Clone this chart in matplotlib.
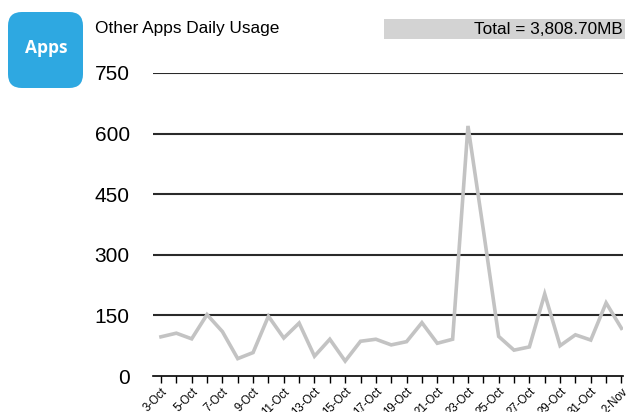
import matplotlib
matplotlib.use("Agg")
import matplotlib.pyplot as plt
from matplotlib.patches import FancyBboxPatch, Rectangle

dates = ["3-Oct", "4-Oct", "5-Oct", "6-Oct", "7-Oct", "8-Oct", "9-Oct", "10-Oct",
         "11-Oct", "12-Oct", "13-Oct", "14-Oct", "15-Oct", "16-Oct", "17-Oct", "18-Oct",
         "19-Oct", "20-Oct", "21-Oct", "22-Oct", "23-Oct", "24-Oct", "25-Oct", "26-Oct",
         "27-Oct", "28-Oct", "29-Oct", "30-Oct", "31-Oct", "1-Nov", "2-Nov"]
usage = [97, 106, 92, 152, 110, 43, 58, 148, 94, 131, 49, 91, 37, 86, 91, 77,
         85, 132, 81, 91, 619, 362, 98, 64, 72, 203, 75, 102, 89, 181, 118]
yticks = [0, 150, 300, 450, 600, 750]
title = "Other Apps Daily Usage"
total_label = "Total = 3,808.70MB"
icon_label = "Apps"

W, H = 627, 412
fig = plt.figure(figsize=(W / 100, H / 100), dpi=100)
plt.rcParams['font.family'] = ['Liberation Sans', 'DejaVu Sans']

# axes placement in pixels
left, right, top, bottom = 153.3, 623, 73, 376
ax = fig.add_axes([left / W, 1 - bottom / H, (right - left) / W, (bottom - top) / H])

x = list(range(len(dates)))
ax.plot(x, usage, color="#c3c3c3", lw=2.6, solid_joinstyle="miter", zorder=3)

ax.set_xlim(-0.5, 30.1)
ax.set_ylim(0, 750)
ax.set_yticks(yticks)
ax.set_yticklabels([str(v) for v in yticks], fontsize=15)
for v in yticks[1:]:
    ax.axhline(v, color="#2a2a2a", lw=1.5, zorder=2)

ax.set_xticks(x)
ax.set_xticklabels([d if i % 2 == 0 else "" for i, d in enumerate(dates)],
                   fontsize=8.3, rotation=45, ha="right", rotation_mode="anchor")
ax.tick_params(axis="x", length=5, width=1, color="black", pad=2)
ax.tick_params(axis="y", length=0, pad=17)

for s in ["top", "right", "left"]:
    ax.spines[s].set_visible(False)
ax.spines["bottom"].set_color("black")
ax.spines["bottom"].set_linewidth(1.2)
ax.spines["bottom"].set_zorder(4)

# header elements
fig.text(95 / W, 1 - 29 / H, title, fontsize=12.4, va="center", ha="left")
fig.patches.append(Rectangle((384 / W, 1 - 39 / H), (625 - 384) / W, 20 / H,
                             transform=fig.transFigure, facecolor="#d3d3d3",
                             edgecolor="none"))
fig.text(623 / W, 1 - 29 / H, total_label, fontsize=12.4, va="center", ha="right")

# icon
fig.patches.append(FancyBboxPatch((8 / W, 1 - 88 / H), 75 / W, 76 / H,
                                  boxstyle="round,pad=0,rounding_size=0.022",
                                  transform=fig.transFigure, facecolor="#2ea8e1",
                                  edgecolor="none", mutation_aspect=W / H))
fig.text(46 / W, 1 - 48 / H, icon_label, fontsize=12.5, color="white",
         fontweight="bold", ha="center", va="center",
         family=["Open Sans", "DejaVu Sans"])

fig.savefig("out.png", dpi=100)
